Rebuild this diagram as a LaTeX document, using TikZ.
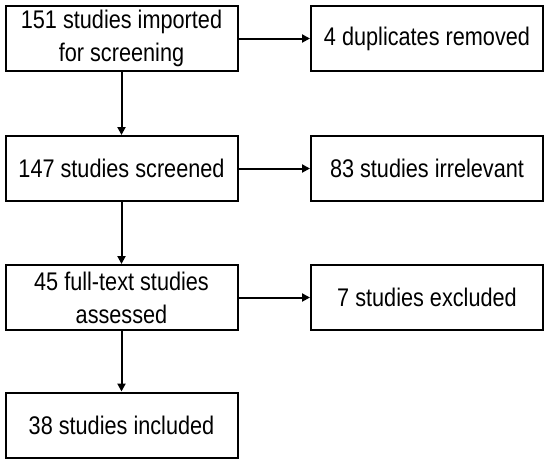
\documentclass[tikz,border=0pt]{standalone}
\usepackage{fontspec}
\setmainfont[FakeStretch=0.85]{Liberation Sans}
\usetikzlibrary{arrows.meta}
\tikzset{
  flowbox/.style={draw,line width=2pt,inner sep=0pt,minimum width=232pt,minimum height=65pt,align=center,font=\fontsize{25.5}{33}\selectfont},
  flowarrow/.style={line width=2pt,-{Triangle[length=8pt,width=8pt]}}
}
\newcommand{\mkbox}[4]{% #1: name, #2: x, #3: y, #4: text
  \node[flowbox] (#1) at (#2,#3) {#4};
}

\begin{document}
\begin{tikzpicture}[x=1pt,y=-1pt]
  \useasboundingbox (0,0) rectangle (550,467);

  % Main stages
  \mkbox{imported}{121.5}{38.5}{151 studies imported\\for screening}
  \mkbox{screened}{121.5}{168.5}{147 studies screened}
  \mkbox{fulltext}{121.5}{297.5}{45 full-text studies\\assessed}
  \mkbox{included}{121.5}{425}{38 studies included}

  % Side boxes
  \mkbox{duplicates}{427}{38.5}{4 duplicates removed}
  \mkbox{irrelevant}{427}{168.5}{83 studies irrelevant}
  \mkbox{excluded}{427}{297.5}{7 studies excluded}

  % Arrows down
  \draw[flowarrow] (imported) -- (screened);
  \draw[flowarrow] (screened) -- (fulltext);
  \draw[flowarrow] (fulltext) -- (included);

  % Arrows to the side
  \draw[flowarrow] (imported) -- (duplicates);
  \draw[flowarrow] (screened) -- (irrelevant);
  \draw[flowarrow] (fulltext) -- (excluded);
\end{tikzpicture}
\end{document}
